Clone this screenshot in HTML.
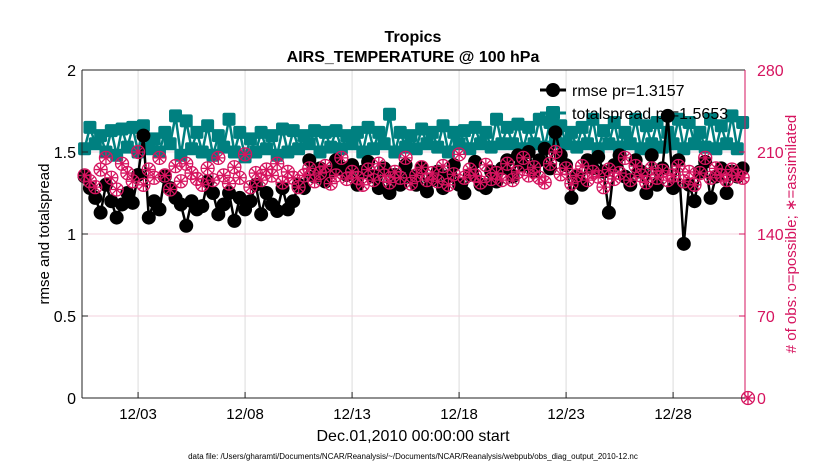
<!DOCTYPE html>
<html><head><meta charset="utf-8"><style>
body{margin:0;background:#fff;}
svg{display:block;font-family:"Liberation Sans",sans-serif;}
</style></head><body>
<svg id="chart" width="830" height="470" viewBox="0 0 830 470">
<rect width="830" height="470" fill="#fff"/>
<g id="grid"></g>
<g id="series"></g>
<g id="axes"></g>
<g id="legend">
 <line x1="540" y1="90" x2="566" y2="90" stroke="#000" stroke-width="3"/>
 <circle cx="553" cy="90" r="7" fill="#000"/>
 <text x="572" y="96" font-size="16">rmse pr=1.3157</text>
 <line x1="540" y1="113" x2="566" y2="113" stroke="#008080" stroke-width="3"/>
 <rect x="546" y="106" width="14" height="14" rx="2" fill="#008080"/>
 <text x="572" y="119" font-size="16">totalspread pr=1.5653</text>
</g>
<text x="413" y="42" font-size="16" font-weight="bold" text-anchor="middle">Tropics</text>
<text x="413" y="62" font-size="16" font-weight="bold" text-anchor="middle">AIRS_TEMPERATURE @ 100 hPa</text>
<text x="413" y="441" font-size="16" text-anchor="middle">Dec.01,2010 00:00:00 start</text>
<text x="413" y="459" font-size="8" text-anchor="middle">data file: /Users/gharamti/Documents/NCAR/Reanalysis/~/Documents/NCAR/Reanalysis/webpub/obs_diag_output_2010-12.nc</text>
<text transform="translate(49,234) rotate(-90)" font-size="15" text-anchor="middle">rmse and totalspread</text>
<text transform="translate(796,234) rotate(-90)" font-size="15" text-anchor="middle" fill="#d6145f"># of obs: o=possible; &#8727;=assimilated</text>
</svg>
<script>
const rmse=[1.35,1.28,1.22,1.13,1.30,1.20,1.10,1.18,1.25,1.19,1.36,1.60,1.10,1.20,1.15,1.35,1.28,1.22,1.18,1.05,1.20,1.15,1.17,1.32,1.25,1.12,1.18,1.25,1.08,1.22,1.15,1.20,1.30,1.12,1.25,1.18,1.14,1.28,1.15,1.20,
1.30,1.28,1.45,1.35,1.40,1.32,1.38,1.45,1.40,1.36,1.42,1.30,1.38,1.44,1.35,1.28,1.40,1.25,1.36,1.30,1.42,1.35,1.30,1.40,1.26,1.33,1.38,1.28,1.35,1.42,1.30,1.25,1.36,1.44,1.30,1.28,1.38,1.32,1.40,1.45,
1.35,1.48,1.42,1.50,1.38,1.45,1.52,1.40,1.62,1.48,1.42,1.22,1.35,1.30,1.45,1.40,1.47,1.38,1.13,1.42,1.48,1.35,1.30,1.45,1.38,1.25,1.48,1.30,1.40,1.72,1.28,1.45,0.94,1.30,1.20,1.38,1.44,1.22,1.35,1.40,1.25,1.38,1.35,1.40];
const spread=[1.52,1.65,1.55,1.60,1.50,1.63,1.48,1.64,1.53,1.65,1.50,1.66,1.52,1.58,1.50,1.62,1.55,1.72,1.48,1.69,1.52,1.62,1.50,1.66,1.48,1.60,1.53,1.70,1.50,1.62,1.47,1.58,1.50,1.62,1.52,1.60,1.48,1.64,1.50,1.63,
1.52,1.60,1.55,1.63,1.50,1.62,1.53,1.63,1.52,1.60,1.55,1.62,1.50,1.65,1.52,1.62,1.55,1.73,1.50,1.62,1.53,1.60,1.52,1.64,1.55,1.62,1.53,1.66,1.50,1.62,1.55,1.63,1.52,1.65,1.55,1.62,1.53,1.70,1.55,1.65,
1.55,1.67,1.52,1.65,1.55,1.70,1.53,1.68,1.56,1.66,1.55,1.62,1.53,1.65,1.55,1.70,1.52,1.63,1.55,1.68,1.53,1.62,1.55,1.70,1.52,1.66,1.55,1.68,1.53,1.62,1.55,1.70,1.52,1.68,1.55,1.62,1.53,1.70,1.52,1.66,1.55,1.72,1.52,1.68];
const obsCount=[190,185,180,195,205,188,178,200,192,185,210,182,195,188,205,190,178,198,185,200,192,187,182,196,186,205,190,183,197,188,208,180,192,186,195,190,200,184,193,188,
180,190,196,185,192,198,183,190,205,187,193,188,182,195,186,200,190,184,193,188,205,183,190,197,186,192,185,198,182,191,208,188,195,190,184,199,187,192,186,200,
186,193,205,190,197,188,184,200,210,191,196,183,190,198,186,193,189,180,195,187,192,205,186,198,190,184,196,188,194,186,190,198,185,193,182,192,205,188,196,190,186,195,190,188,0];
const xTickDays=[3,8,13,18,23,28];
const xTickLabels=["12/03","12/08","12/13","12/18","12/23","12/28"];
const leftTicks=[0,0.5,1,1.5,2];
const leftTickLabels=["0","0.5","1","1.5","2"];
const rightTicks=[0,70,140,210,280];

const X0=82,X1=745,Y0=398,Y1=70,DMIN=0.38,DMAX=31.36;
const ns="http://www.w3.org/2000/svg";
function sx(d){return X0+(d-DMIN)/(DMAX-DMIN)*(X1-X0);}
function sy(v){return Y0-v/2*(Y0-Y1);}
function sr(v){return Y0-v/280*(Y0-Y1);}
function dayOf(i){return 0.5+0.25*i;}
function mk(tag,attrs,parent){const e=document.createElementNS(ns,tag);for(const k in attrs)e.setAttribute(k,attrs[k]);parent.appendChild(e);return e;}
const grid=document.getElementById('grid'),series=document.getElementById('series'),axes=document.getElementById('axes');

xTickDays.forEach((d,i)=>{
 const gl=mk('line',{x1:sx(d),x2:sx(d),y1:Y1,y2:Y0,stroke:'#dcdcdc','stroke-width':1},grid);
 
 
 const t=mk('line',{x1:sx(d),x2:sx(d),y1:Y0,y2:Y0-6,stroke:'#222'},axes);
 
 
 const lb=mk('text',{x:sx(d),y:Y0+21,'font-size':15,'text-anchor':'middle'},axes);
 lb.textContent=xTickLabels[i];
 
 
});
rightTicks.forEach(v=>{
 if(v>0&&v<280){const gl=mk('line',{x1:X0,x2:X1,y1:sr(v),y2:sr(v),stroke:'#f3d0dc','stroke-width':1},grid);
 
 }
 const t=mk('line',{x1:X1,x2:X1-6,y1:sr(v),y2:sr(v),stroke:'#d6145f'},axes);
 
 
 const lb=mk('text',{x:X1+12,y:sr(v)+6,'font-size':16,fill:'#d6145f'},axes);
 lb.textContent=String(v);
 
 
});
leftTicks.forEach((v,i)=>{
 const t=mk('line',{x1:X0,x2:X0+6,y1:sy(v),y2:sy(v),stroke:'#222'},axes);
 
 
 const lb=mk('text',{x:X0-6,y:sy(v)+6,'font-size':16,'text-anchor':'end'},axes);
 lb.textContent=leftTickLabels[i];
 
 
});
const la=mk('line',{x1:X0,x2:X0,y1:Y1,y2:Y0,stroke:'#222'},axes);


const ba=mk('line',{x1:X0,x2:X1,y1:Y0,y2:Y0,stroke:'#222'},axes);


const ta=mk('line',{x1:X0,x2:X1,y1:Y1,y2:Y1,stroke:'#222'},axes);


const ra=mk('line',{x1:X1,x2:X1,y1:Y1,y2:Y0,stroke:'#d6145f'},axes);



const sp=mk('polyline',{points:spread.map((v,i)=>sx(dayOf(i))+','+sy(v)).join(' '),fill:'none',stroke:'#008080','stroke-width':2.5},series);


spread.forEach((v,i)=>{
 const r=mk('rect',{x:sx(dayOf(i))-6.5,y:sy(v)-6.5,width:13,height:13,rx:2,fill:'#008080'},series);
 
 
});
const rl=mk('polyline',{points:rmse.map((v,i)=>sx(dayOf(i))+','+sy(v)).join(' '),fill:'none',stroke:'#000','stroke-width':2.5},series);


rmse.forEach((v,i)=>{
 const c=mk('circle',{cx:sx(dayOf(i)),cy:sy(v),r:7,fill:'#000'},series);
 
 
});
obsCount.forEach((v,i)=>{
 const x=sx(dayOf(i)),y=sr(v);
 const g=mk('g',{stroke:'#d6145f','stroke-width':1.3,fill:'none'},series);
 
 
 mk('circle',{cx:x,cy:y,r:6.5},g);
 mk('path',{d:`M${x-6} ${y}H${x+6}M${x} ${y-6}V${y+6}M${x-4.2} ${y-4.2}L${x+4.2} ${y+4.2}M${x-4.2} ${y+4.2}L${x+4.2} ${y-4.2}`},g);
});
</script>
</body></html>
